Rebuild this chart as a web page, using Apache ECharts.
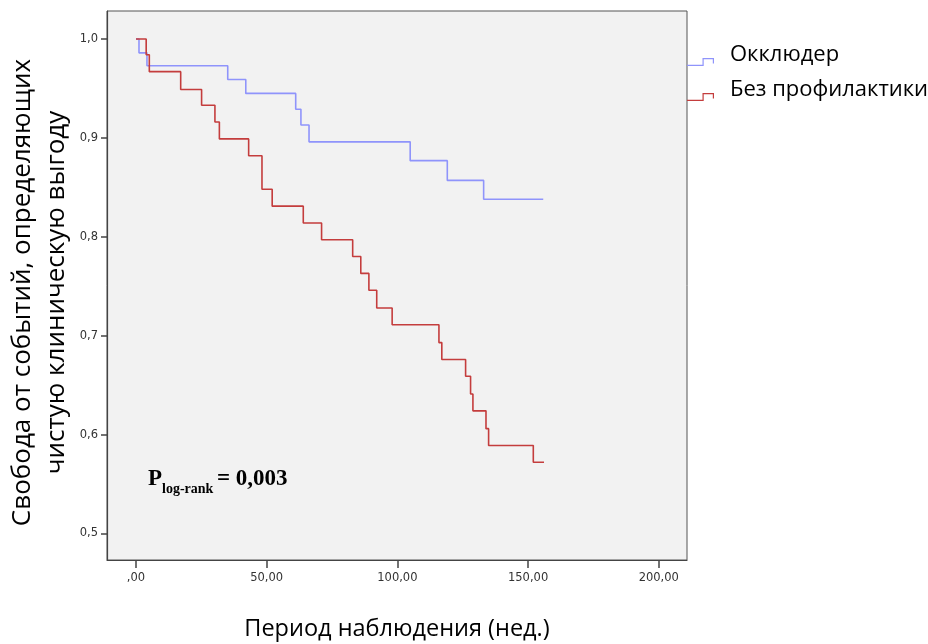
<!DOCTYPE html>
<html>
<head>
<meta charset="utf-8">
<script src="https://cdn.jsdelivr.net/npm/echarts@6/dist/echarts.min.js"></script>
<style>
html,body{margin:0;padding:0;background:#fff;}
#chart{width:928px;height:644px;}
</style>
</head>
<body>
<div id="chart"></div>
<script>
// ---- Data ----
const seriesNames = ['Окклюдер', 'Без профилактики'];
const occluderTime = [0, 1.15, 4.2, 35.1, 42.0, 61.1, 63.1, 66.2, 104.9, 119.1, 133.0, 155.8];
const occluderSurv = [1.0, 0.986, 0.973, 0.959, 0.945, 0.929, 0.913, 0.896, 0.877, 0.857, 0.838, 0.838];
const noProphTime = [0, 3.9, 5.1, 17.1, 25.1, 30.2, 31.9, 43.1, 48.2, 52.1, 64.0, 71.0, 82.9, 86.0, 89.1, 92.1, 98.0, 115.9, 117.0, 126.1, 128.0, 128.9, 133.9, 134.9, 152.0, 156.1];
const noProphSurv = [1.0, 0.984, 0.967, 0.949, 0.933, 0.916, 0.899, 0.882, 0.848, 0.831, 0.814, 0.797, 0.780, 0.763, 0.746, 0.728, 0.711, 0.693, 0.676, 0.659, 0.641, 0.624, 0.606, 0.589, 0.572, 0.572];
const xTicks = [0, 50, 100, 150, 200];
const yTicks = [0.5, 0.6, 0.7, 0.8, 0.9, 1.0];
const xTitle = 'Период наблюдения (нед.)';
const yTitle = 'Свобода от событий, определяющих\nчистую клиническую выгоду';
const pText = ['P', 'log-rank', '= 0,003'];

const pair = (t, s) => t.map((v, i) => [v, s[i]]);

const chart = echarts.init(document.getElementById('chart'), null, {renderer: 'canvas'});

// step-shaped legend icon (thin filled outline), drawn in the lower part of its box
const iconPath = 'path://M0,-11.5 L0.01,-11.5 L0,-11.49 Z ' +
  'M0,10.3 L15.5,10.3 L15.5,3.5 L27,3.5 L27,9 L25.8,9 L25.8,4.7 L16.7,4.7 L16.7,11.5 L0,11.5 Z';
const blue = '#8f94fb';
const red = '#c43d3d';

chart.setOption({
  backgroundColor: '#ffffff',
  animation: false,
  grid: {
    left: 107, top: 11, right: 241, bottom: 84,
    outerBoundsMode: 'none', containLabel: false,
    show: true, backgroundColor: '#f2f2f2', borderColor: '#555', borderWidth: 1
  },
  legend: {
    orient: 'vertical',
    left: 687, top: 43,
    padding: 0,
    itemWidth: 27, itemHeight: 23,
    itemGap: 12,
    data: [
      {name: seriesNames[0], icon: iconPath},
      {name: seriesNames[1], icon: iconPath}
    ],
    textStyle: {fontFamily: 'Open Sans', fontSize: 22, color: '#000', padding: [0, 0, 0, 11]}
  },
  xAxis: {
    type: 'value',
    min: -11.09, max: 210.8,
    name: xTitle,
    nameLocation: 'middle',
    nameGap: 57,
    nameMoveOverlap: false,
    nameTextStyle: {fontFamily: 'Open Sans', fontSize: 23.5, color: '#000'},
    axisLine: {show: true, onZero: false, lineStyle: {color: '#444', width: 1.2}},
    axisTick: {show: true, customValues: xTicks, length: 8, lineStyle: {color: '#444', width: 1.5}},
    axisLabel: {
      customValues: xTicks, margin: 12,
      fontFamily: 'DejaVu Sans', fontSize: 11.5, color: '#333',
      formatter: v => (v === 0 ? ',00' : v + ',00')
    },
    splitLine: {show: false}
  },
  yAxis: {
    type: 'value',
    min: 0.4732, max: 1.0283,
    name: yTitle,
    nameLocation: 'middle',
    nameRotate: 90,
    nameGap: 33,
    nameMoveOverlap: false,
    nameTextStyle: {fontFamily: 'Open Sans', fontSize: 26, color: '#000', lineHeight: 34, padding: [0, 14, 0, 0]},
    axisLine: {show: true, onZero: false, lineStyle: {color: '#444', width: 1.2}},
    axisTick: {show: true, customValues: yTicks, length: 6, lineStyle: {color: '#444', width: 1.5}},
    axisLabel: {
      customValues: yTicks, margin: 9,
      fontFamily: 'DejaVu Sans', fontSize: 11.5, color: '#333',
      formatter: v => v.toFixed(1).replace('.', ',')
    },
    splitLine: {show: false}
  },
  series: [
    {
      name: seriesNames[0], type: 'line', step: 'end', symbol: 'none',
      data: pair(occluderTime, occluderSurv),
      color: blue,
      lineStyle: {color: blue, width: 1.6}
    },
    {
      name: seriesNames[1], type: 'line', step: 'end', symbol: 'none',
      data: pair(noProphTime, noProphSurv),
      color: red,
      lineStyle: {color: red, width: 1.6}
    }
  ],
  graphic: [
    {type: 'text', left: 148, top: 468, style: {text: pText[0], fontFamily: 'Liberation Serif', fontWeight: 'bold', fontSize: 23, fill: '#000'}},
    {type: 'text', left: 162, top: 482, style: {text: pText[1], fontFamily: 'Liberation Serif', fontWeight: 'bold', fontSize: 14, fill: '#000'}},
    {type: 'text', left: 217, top: 468, style: {text: pText[2], fontFamily: 'Liberation Serif', fontWeight: 'bold', fontSize: 23, fill: '#000'}}
  ]
});
</script>
</body>
</html>
